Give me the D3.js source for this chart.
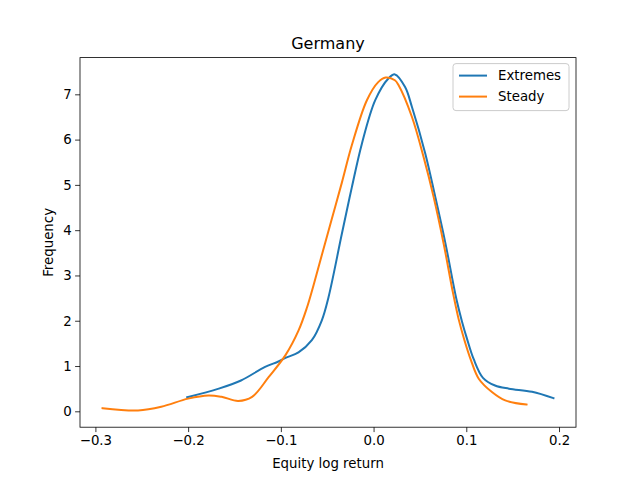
<!DOCTYPE html>
<html>
<head>
<meta charset="utf-8">
<script src="https://cdn.jsdelivr.net/npm/d3@7"></script>
<style>
  body { margin: 0; background: #fff; }
  text { font-family: "DejaVu Sans", sans-serif; fill: #000; }
</style>
</head>
<body>
<div class="canvas"></div>
<script>
// data
const extremesX = [-0.201, -0.167, -0.143, -0.117, -0.1026, -0.095, -0.081, -0.0666, -0.0558, -0.0486, -0.0342, -0.0234, -0.0126, 0.0018, 0.016, 0.023, 0.034, 0.0414, 0.0558, 0.0666, 0.0774, 0.0893, 0.0954, 0.1008, 0.108, 0.118, 0.131, 0.146, 0.171, 0.194]
const extremesY = [0.31, 0.50, 0.68, 0.98, 1.10, 1.18, 1.30, 1.57, 2.01, 2.52, 3.92, 4.95, 5.91, 6.87, 7.35, 7.44, 7.16, 6.72, 5.69, 4.73, 3.72, 2.48, 1.98, 1.60, 1.15, 0.74, 0.57, 0.50, 0.43, 0.29]

const steadyX = [-0.2923, -0.254, -0.229, -0.200, -0.178, -0.164, -0.146, -0.131, -0.113, -0.095, -0.081, -0.072, -0.0648, -0.0558, -0.045, -0.0342, -0.0234, -0.0072, 0.005, 0.013, 0.023, 0.027, 0.0414, 0.054, 0.0648, 0.0756, 0.0856, 0.0918, 0.098, 0.105, 0.1134, 0.128, 0.142, 0.165]
const steadyY = [0.07, 0.02, 0.10, 0.28, 0.35, 0.32, 0.23, 0.32, 0.76, 1.24, 1.78, 2.28, 2.78, 3.45, 4.25, 5.05, 5.88, 6.87, 7.27, 7.37, 7.31, 7.20, 6.50, 5.61, 4.73, 3.70, 2.62, 2.03, 1.57, 1.13, 0.72, 0.42, 0.24, 0.15]

const seriesNames = ['Extremes', 'Steady']
const colors = ['#1f77b4', '#ff7f0e']
const xTicks = [-0.3, -0.2, -0.1, 0.0, 0.1, 0.2]
const yTicks = [0, 1, 2, 3, 4, 5, 6, 7]

const series = [
    extremesX.map((x, i) => ({ x, y: extremesY[i] })),
    steadyX.map((x, i) => ({ x, y: steadyY[i] }))
]

const width = 640
const height = 480
const margin = { top: 57.6, right: 64, bottom: 52.8, left: 80 }
const graphWidth = width - margin.left - margin.right
const graphHeight = height - margin.top - margin.bottom

const svg = d3.select('.canvas')
    .append('svg')
    .attr('width', width)
    .attr('height', height)

const graph = svg.append('g')
    .attr('transform', `translate(${margin.left}, ${margin.top})`)

// scales with matplotlib-like 5% margins
const allX = extremesX.concat(steadyX)
const allY = extremesY.concat(steadyY)
const [x0, x1] = d3.extent(allX)
const [y0, y1] = d3.extent(allY)
const padX = (x1 - x0) * 0.05
const padY = (y1 - y0) * 0.05

const x = d3.scaleLinear()
    .domain([x0 - padX, x1 + padX])
    .range([0, graphWidth])

const y = d3.scaleLinear()
    .domain([y0 - padY, y1 + padY])
    .range([graphHeight, 0])

const fmt = d => d3.format('.1f')(d).replace('-', '\u2212')

const xAxis = d3.axisBottom(x)
    .tickValues(xTicks)
    .tickFormat(fmt)
    .tickSize(4.9)
    .tickPadding(3.5)

const yAxis = d3.axisLeft(y)
    .tickValues(yTicks)
    .tickFormat(d3.format('d'))
    .tickSize(4.9)
    .tickPadding(3.5)

const xAxisGroup = graph.append('g')
    .attr('transform', `translate(0, ${graphHeight})`)
    .call(xAxis)
const yAxisGroup = graph.append('g')
    .call(yAxis)

graph.selectAll('.domain').remove()
graph.selectAll('.tick line').attr('stroke', '#000').attr('stroke-width', 0.8)
graph.selectAll('.tick text')
    .style('font-family', '"DejaVu Sans", sans-serif')
    .style('font-size', '13.33px')
    .attr('fill', '#000')

// lines
const line = d3.line()
    .x(d => x(d.x))
    .y(d => y(d.y))
    .curve(d3.curveCatmullRom.alpha(0.5))

graph.selectAll('path.series')
    .data(series)
    .enter()
    .append('path')
    .attr('class', 'series')
    .attr('d', line)
    .attr('fill', 'none')
    .attr('stroke', (d, i) => colors[i])
    .attr('stroke-width', 2)
    .attr('stroke-linecap', 'square')

// frame
graph.append('rect')
    .attr('width', graphWidth)
    .attr('height', graphHeight)
    .attr('fill', 'none')
    .attr('stroke', '#000')
    .attr('stroke-width', 0.8)

// title and labels
svg.append('text')
    .attr('x', margin.left + graphWidth / 2)
    .attr('y', margin.top - 9)
    .attr('text-anchor', 'middle')
    .style('font-size', '16px')
    .text('Germany')

svg.append('text')
    .attr('x', margin.left + graphWidth / 2)
    .attr('y', 468)
    .attr('text-anchor', 'middle')
    .style('font-size', '13.33px')
    .text('Equity log return')

svg.append('text')
    .attr('transform', `translate(53, ${margin.top + graphHeight / 2}) rotate(-90)`)
    .attr('text-anchor', 'middle')
    .style('font-size', '13.33px')
    .text('Frequency')

// legend
const legend = graph.append('g')
    .attr('transform', `translate(${graphWidth - 123}, 6)`)

legend.append('rect')
    .attr('width', 116)
    .attr('height', 47)
    .attr('rx', 3)
    .attr('fill', '#fff')
    .attr('fill-opacity', 0.8)
    .attr('stroke', '#ccc')
    .attr('stroke-width', 1)

seriesNames.forEach((name, i) => {
    const row = legend.append('g')
        .attr('transform', `translate(6, ${12 + i * 21})`)
    row.append('line')
        .attr('x1', 0).attr('x2', 28)
        .attr('stroke', colors[i])
        .attr('stroke-width', 2)
    row.append('text')
        .attr('x', 39)
        .attr('y', 4.7)
        .style('font-size', '13.33px')
        .text(name)
})
</script>
</body>
</html>
